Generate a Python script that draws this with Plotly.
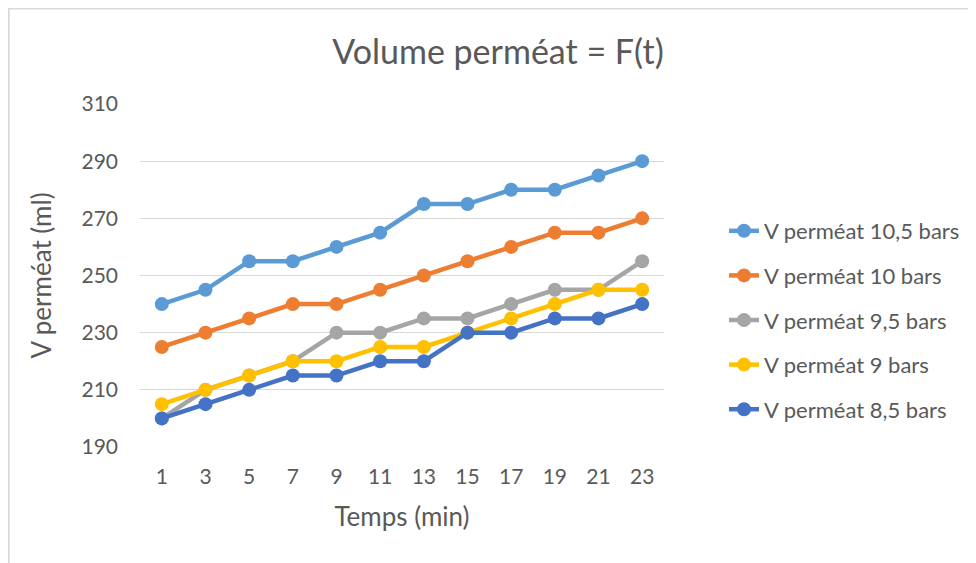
import plotly.graph_objects as go

temps = [1, 3, 5, 7, 9, 11, 13, 15, 17, 19, 21, 23]
v_10_5 = [240, 245, 255, 255, 260, 265, 275, 275, 280, 280, 285, 290]
v_10 = [225, 230, 235, 240, 240, 245, 250, 255, 260, 265, 265, 270]
v_9_5 = [200, 210, 215, 220, 230, 230, 235, 235, 240, 245, 245, 255]
v_9 = [205, 210, 215, 220, 220, 225, 225, 230, 235, 240, 245, 245]
v_8_5 = [200, 205, 210, 215, 215, 220, 220, 230, 230, 235, 235, 240]

series_names = ["V perméat 10,5 bars", "V perméat 10 bars", "V perméat 9,5 bars",
                "V perméat 9 bars", "V perméat 8,5 bars"]
series_values = [v_10_5, v_10, v_9_5, v_9, v_8_5]
colors = ["#5B9BD5", "#ED7D31", "#A5A5A5", "#FFC000", "#4472C4"]

FONT = "Lato, 'Open Sans', sans-serif"
TXT = "#595959"

fig = go.Figure()
for i, (name, vals, col) in enumerate(zip(series_names, series_values, colors)):
    fig.add_trace(go.Scatter(
        x=temps, y=vals, name=name, mode="lines+markers",
        line=dict(color=col, width=4.5),
        marker=dict(color=col, size=14),
        legendgroup=f"g{i}",
    ))

# page has an 8px body margin: figure coordinates = page - 8
W, H = 968, 555
L, T = 132, 96
R, B = 311, 116
pw, ph = W - L - R, H - T - B

fig.update_layout(
    width=W, height=H,
    margin=dict(l=L, r=R, t=T, b=B),
    paper_bgcolor="white", plot_bgcolor="white",
    font=dict(family=FONT, color=TXT, size=21),
    title=dict(text="Volume perméat = F(t)", x=490 / W, xanchor="center",
               y=1 - 44 / H, yanchor="middle",
               font=dict(size=34, color=TXT, family=FONT)),
    showlegend=True,
    legend=dict(x=(716 - L) / pw, xanchor="left", y=1 - (202 - T) / ph, yanchor="top",
                font=dict(size=22, color=TXT, family=FONT),
                tracegroupgap=13, bgcolor="rgba(0,0,0,0)"),
    xaxis=dict(range=[0, 24], tickvals=temps, ticktext=[str(t) for t in temps],
               showgrid=False, zeroline=False, showline=False,
               ticks="", ticklabelstandoff=15,
               tickfont=dict(size=21, color=TXT, family=FONT),
               title=dict(text="Temps (min)", standoff=20,
                          font=dict(size=26, color=TXT, family=FONT))),
    yaxis=dict(range=[190, 310], tickvals=[190, 210, 230, 250, 270, 290, 310],
               showgrid=True, gridcolor="#D9D9D9", gridwidth=1.3,
               zeroline=False, showline=False, ticks="", ticklabelstandoff=21,
               tickfont=dict(size=21, color=TXT, family=FONT),
               title=dict(text="V perméat (ml)", standoff=22,
                          font=dict(size=26, color=TXT, family=FONT))),
)

# outer chart border (left and top edges visible)
fig.add_shape(type="rect", xref="paper", yref="paper",
              x0=(0.5 - L) / pw, x1=(W + 20 - L) / pw,
              y0=-(H + 20 - T - ph) / ph, y1=1 + (T - 0.5) / ph,
              line=dict(color="#D9D9D9", width=2), fillcolor="rgba(0,0,0,0)", layer="below")

fig.write_html("out.html")
